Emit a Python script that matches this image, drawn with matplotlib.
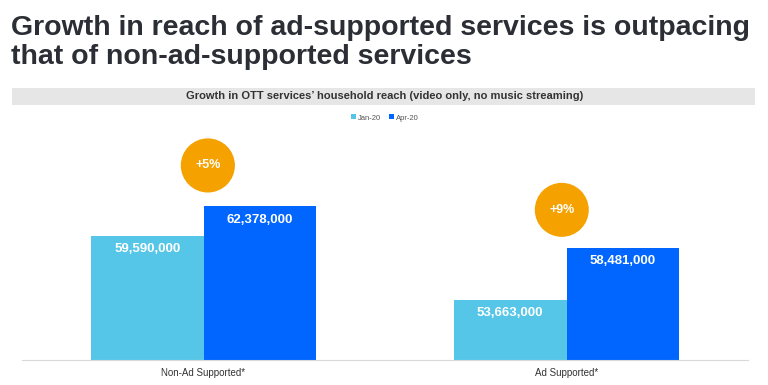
import matplotlib
matplotlib.use("Agg")
import matplotlib.pyplot as plt
from matplotlib.patches import Rectangle

categories = ["Non-Ad Supported*", "Ad Supported*"]
series_names = ["Jan-20", "Apr-20"]
jan_values = [59590000, 53663000]
apr_values = [62378000, 58481000]
growth_labels = ["+5%", "+9%"]

title_lines = ["Growth in reach of ad-supported services is outpacing",
               "that of non-ad-supported services"]
subtitle = "Growth in OTT services\u2019 household reach (video only, no music streaming)"

c_jan = "#56C6E8"
c_apr = "#0066FF"
c_orange = "#F5A100"
c_title = "#2B2E35"

plt.rcParams['font.family'] = ['Liberation Sans', 'DejaVu Sans']

fig = plt.figure(figsize=(7.68, 3.85), dpi=100)

# Title (two lines, placed by baseline)
for i, line in enumerate(title_lines):
    fig.text(11/768, 1 - (35 + 29*i)/385, line, ha="left", va="baseline",
             fontsize=20.5, fontweight="bold", color=c_title)

# Subtitle band
fig.patches.append(Rectangle((12/768, 1 - 105/385), (755-12)/768, 17/385,
                             transform=fig.transFigure, facecolor="#E6E6E6",
                             edgecolor="none", zorder=0))
fig.text(385/768, 1 - 96.5/385, subtitle, ha="center", va="center", fontsize=8,
         fontweight="bold", color="#333333")

ax = fig.add_axes([22/768, 1 - 360/385, (748-22)/768, (360-125)/385])
x = [0, 1]
w = 0.31
xj = [xi - w/2 for xi in x]
xa = [xi + w/2 for xi in x]
bj = ax.bar(xj, jan_values, width=w, color=c_jan, label=series_names[0], zorder=2)
ba = ax.bar(xa, apr_values, width=w, color=c_apr, label=series_names[1], zorder=2)
ax.set_ylim(48e6, 70e6)
ax.set_xlim(-0.5, 1.5)

for xi, v in zip(xj, jan_values):
    ax.annotate(f"{v:,}", (xi, v), xytext=(0, -9.5), textcoords="offset points",
                ha="center", va="center", color="white", fontweight="bold", fontsize=9.5)
for xi, v in zip(xa, apr_values):
    ax.annotate(f"{v:,}", (xi, v), xytext=(0, -9.5), textcoords="offset points",
                ha="center", va="center", color="white", fontweight="bold", fontsize=9.5)

# Growth circles
for xi, v, g, off, dx in zip(x, apr_values, growth_labels, [29.5, 27.5], [0.012, -0.013]):
    ax.annotate(g, (xi + dx, v), xytext=(0, off), textcoords="offset points",
                ha="center", va="center", color="white", fontweight="bold", fontsize=9,
                bbox=dict(boxstyle="circle,pad=1.15", facecolor=c_orange, edgecolor="none"),
                annotation_clip=False)

ax.set_yticks([])
ax.set_xticks(x)
ax.set_xticklabels(categories, fontsize=7, color="#333333")
ax.tick_params(axis="x", length=0, pad=6)
for s in ["top", "right", "left"]:
    ax.spines[s].set_visible(False)
ax.spines["bottom"].set_color("#D9D9D9")
ax.spines["bottom"].set_linewidth(0.8)

leg = fig.legend(handles=[bj, ba], labels=series_names, loc="center",
                 bbox_to_anchor=(385/768, 1 - 118/385), ncol=2, frameon=False,
                 fontsize=5.5, handlelength=0.6, handleheight=0.6,
                 handletextpad=0.3, columnspacing=1.0, labelcolor="#555555")

fig.savefig("out.png", dpi=100)
